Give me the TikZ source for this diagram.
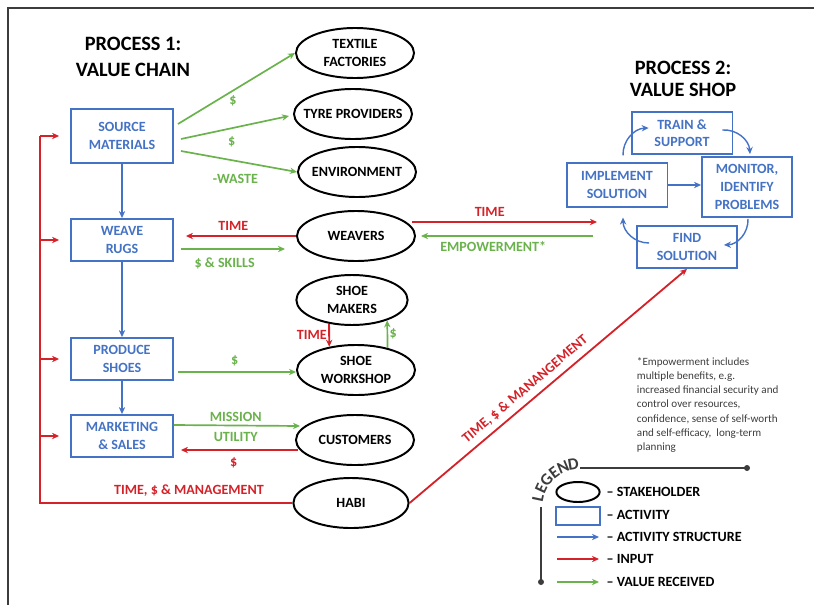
\documentclass[tikz,border=0pt]{standalone}
\usepackage{fontspec}
\setmainfont{Carlito}
\usepackage{tikz}
\usetikzlibrary{shapes.geometric,arrows.meta,positioning,calc}
\definecolor{actblue}{RGB}{68,114,196}
\definecolor{inred}{RGB}{212,34,40}
\definecolor{valgreen}{RGB}{106,178,76}
\definecolor{leggray}{RGB}{60,60,60}
\tikzstyle{stakeholder}=[ellipse, draw=black, line width=1.4pt, minimum width=2.95cm, minimum height=1.25cm, inner xsep=-8pt, inner ysep=0pt, align=center]
\tikzstyle{activity}=[rectangle, draw=actblue, line width=1.3pt, text=actblue, align=center, minimum width=2.55cm, minimum height=1.05cm, inner sep=1pt]
\tikzstyle{structarrow}=[->, draw=actblue, line width=1pt]
\tikzstyle{inputarrow}=[->, draw=inred, line width=1.3pt]
\tikzstyle{valuearrow}=[->, draw=valgreen, line width=1.2pt]
\tikzstyle{redlbl}=[text=inred, inner sep=1pt]
\tikzstyle{greenlbl}=[text=valgreen, inner sep=1pt]
\tikzstyle{title}=[align=center, font=\bfseries\fontsize{14.5}{18}\selectfont]
\tikzstyle{legtext}=[anchor=west, inner sep=1pt, text=black]

\begin{document}
\begin{tikzpicture}[x=0.025cm, y=0.025cm, >={Stealth[length=5pt,width=4.5pt]}, font=\bfseries\fontsize{10}{12.5}\selectfont]

\useasboundingbox (0,0) rectangle (814,-605);
\draw[leggray, line width=1.4pt] (814,-8) -- (8,-8) -- (8,-605);

% titles
\node[title] (p1) at (133,-57) {PROCESS 1:\\VALUE CHAIN};
\node[title, font=\bfseries\fontsize{14.5}{16}\selectfont] (p2) at (683,-79) {PROCESS 2:\\VALUE SHOP};

% value chain
\node[activity, minimum height=1.35cm] (src) at (122,-136) {SOURCE\\MATERIALS};
\node[activity] (weave) at (122,-240) {WEAVE\\RUGS};
\node[activity] (produce) at (122,-359) {PRODUCE\\SHOES};
\node[activity] (market) at (122,-436) {MARKETING\\\& SALES};

\draw[structarrow] (src) -- (weave);
\draw[structarrow] (weave) -- (produce);
\draw[structarrow] (produce) -- (market);

% stakeholders
\node[stakeholder] (textile) at (355,-53) {TEXTILE\\FACTORIES};
\node[stakeholder] (tyre) at (353,-114) {TYRE PROVIDERS};
\node[stakeholder] (env) at (357,-172) {ENVIRONMENT};
\node[stakeholder] (weavers) at (356,-236) {WEAVERS};
\node[stakeholder, minimum width=2.78cm] (makers) at (352,-300) {SHOE\\MAKERS};
\node[stakeholder] (workshop) at (356,-370) {SHOE\\WORKSHOP};
\node[stakeholder] (customers) at (355,-440) {CUSTOMERS};
\node[stakeholder, minimum width=2.88cm] (habi) at (351,-503) {HABI};

% value received / input
\draw[valuearrow] ($(src.east)+(4,12)$) -- node[greenlbl, pos=0.47, below=2pt]{\$} (textile.west);
\draw[valuearrow] ($(src.east)+(7,-3)$) -- node[greenlbl, pos=0.47, below=4pt]{\$} ($(tyre.west)+(-4,-2)$);
\draw[valuearrow] ($(src.east)+(7,-15)$) -- node[greenlbl, pos=0.47, below=8pt]{-WASTE} (env.west);

\draw[inputarrow] (weavers.west) -- node[redlbl, above=2pt, pos=0.57]{TIME} ($(weave.east)+(12,4)$);
\draw[valuearrow] ($(weave.east)+(7,-9)$) -- node[greenlbl, below=5pt, pos=0.42]{\$ \& SKILLS} ($(weavers.west)+(-11,-13)$);

\draw[valuearrow] ($(produce.east)+(4,-13)$) -- node[greenlbl, above=3pt, pos=0.48]{\$} ($(workshop.west)+(0,-2)$);
\draw[inputarrow] (makers.226) -- node[redlbl, left=0pt]{TIME} (workshop.139);
\draw[valuearrow] (workshop.35.6) -- node[greenlbl, right=0pt]{\$} (makers.330);

\draw[valuearrow] ($(market.east)+(0,11)$) -- node[greenlbl, above=1pt, pos=0.49]{MISSION} node[greenlbl, below=3pt, pos=0.49]{UTILITY} ($(customers.west)+(5,14)$);
\draw[inputarrow] ($(customers.west)+(3,-10)$) -- node[redlbl, below=4pt, pos=0.55]{\$} ($(market.east)+(7,-14)$);

% input bus
\coordinate (bus) at (40,-503);
\draw[inred, line width=1.3pt] (habi.west) -- node[redlbl, above=3pt, pos=0.41]{TIME, \$ \& MANAGEMENT} (bus) -- (bus |- src.west);
\foreach \n in {src,weave,produce,market}
    \draw[inputarrow] (bus |- \n.west) -- ($(\n.west)+(-11,0)$);

% value shop
\node[activity, minimum width=2.52cm] (train) at (682,-133) {TRAIN \&\\SUPPORT};
\node[activity, minimum width=2.52cm, minimum height=1.08cm] (implement) at (617,-185) {IMPLEMENT\\SOLUTION};
\node[activity, minimum width=2.25cm, minimum height=1.5cm] (monitor) at (747,-187) {MONITOR,\\IDENTIFY\\PROBLEMS};
\node[activity, minimum width=2.5cm] (find) at (687,-247) {FIND\\SOLUTION};

\draw[structarrow] ($(implement.north)+(6,7)$) to[bend left=45] ($(train.west)+(18,5)$);
\draw[structarrow] ($(train.east)+(-11,3)$) to[bend left=45] ($(monitor.north)+(3,2)$);
\draw[structarrow] ($(monitor.south)+(1,-1)$) to[bend left=45] ($(find.east)+(-14,2)$);
\draw[structarrow] ($(find.west)+(13,4)$) to[bend left=45] ($(implement.south)+(6,-10)$);
\draw[structarrow] (implement.east) -- (monitor.west |- implement.east);

\coordinate (shopin) at (597,-222);
\coordinate (shopout) at (593,-236);
\draw[inputarrow] ($(weavers.east)+(-4,14)$) -- node[redlbl, above=2pt, pos=0.42]{TIME} (shopin);
\draw[valuearrow] (shopout) -- node[greenlbl, below=2pt, pos=0.58]{EMPOWERMENT*} ($(weavers.east)+(5,0)$);
\draw[inputarrow] (habi.east) -- node[redlbl, above=3pt, sloped, pos=0.445]{TIME, \$ \& MANANGEMENT} (find.south);

% note
\node[anchor=west, align=left, text=leggray, font=\mdseries\fontsize{7.9}{9.96}\selectfont] (note) at (632,-405) {*Empowerment includes\\multiple benefits, e.g.\\increased financial security and\\control over resources,\\confidence, sense of self-worth\\and self-efficacy,\ \ long-term\\planning};

% legend
\coordinate (legc) at (580,-507);
\draw[leggray, line width=1pt] (580,-468) -- (747,-468) coordinate (legend1);
\fill[leggray] (legend1) circle (3);
\draw[leggray, line width=1pt] (541,-507) -- (541,-582) coordinate (legend2);
\fill[leggray] (legend2) circle (3);
\foreach \ch/\a in {L/168,E/155,G/141,E/127,N/113,D/99}
    \node[text=leggray, inner sep=0pt, rotate=\a-90, font=\bfseries\fontsize{12}{14}\selectfont] at ($(legc)+(\a:43)$) {\ch};

\node[stakeholder, minimum width=1.08cm, minimum height=0.5cm, inner sep=0pt] (legstake) at (578,-492) {};
\node[activity, minimum width=1.08cm, minimum height=0.45cm] (legact) at (578,-516) {};
\node[legtext] (lt1) at (605,-492) {– STAKEHOLDER};
\node[legtext] (lt2) at (605,-515) {– ACTIVITY};
\node[legtext] (lt3) at (605,-537) {– ACTIVITY STRUCTURE};
\node[legtext] (lt4) at (605,-559) {– INPUT};
\node[legtext] (lt5) at (605,-582) {– VALUE RECEIVED};
\draw[structarrow] ($(lt3.west)+(-48,0)$) -- ($(lt3.west)+(-6,0)$);
\draw[inputarrow] ($(lt4.west)+(-48,0)$) -- ($(lt4.west)+(-6,0)$);
\draw[valuearrow] ($(lt5.west)+(-48,0)$) -- ($(lt5.west)+(-6,0)$);

\end{tikzpicture}
\end{document}
